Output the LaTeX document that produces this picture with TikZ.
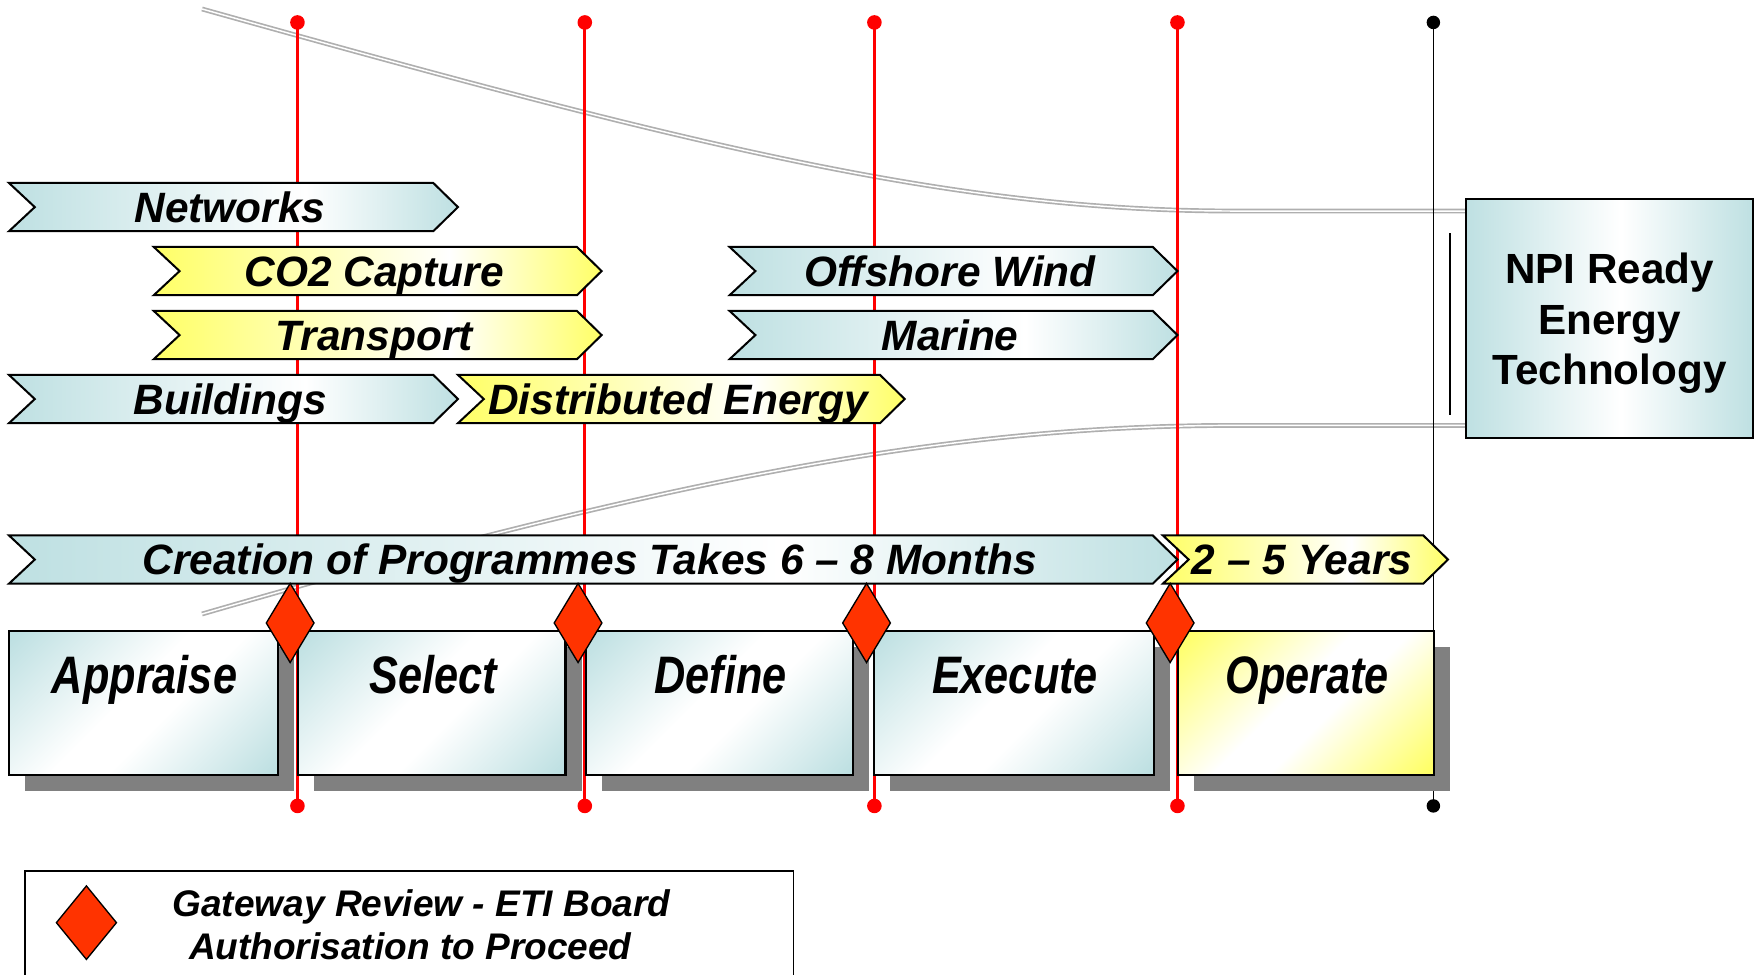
\documentclass[tikz,border=0pt]{standalone}
\usepackage{fontspec}
\setmainfont{Liberation Sans}
\newfontfamily\condfont[FakeStretch=0.82]{Liberation Sans}
\usetikzlibrary{shapes.geometric}
\definecolor{tealc}{RGB}{190,224,226}
\definecolor{yelc}{RGB}{255,255,102}
\definecolor{diam}{RGB}{255,51,0}
\definecolor{shad}{RGB}{128,128,128}
\definecolor{curvegray}{RGB}{175,175,175}
\pgfdeclarehorizontalshading{tealbar}{100bp}{color(0bp)=(tealc); color(25bp)=(tealc); color(58bp)=(white); color(75bp)=(tealc); color(100bp)=(tealc)}
\pgfdeclarehorizontalshading{yelbar}{100bp}{color(0bp)=(yelc); color(25bp)=(yelc); color(58bp)=(white); color(75bp)=(yelc); color(100bp)=(yelc)}
\pgfdeclarehorizontalshading{npishade}{100bp}{color(0bp)=(tealc); color(25bp)=(tealc); color(52bp)=(white); color(75bp)=(tealc); color(100bp)=(tealc)}
\pgfdeclarehorizontalshading{tealbox}{100bp}{color(0bp)=(tealc); color(16bp)=(tealc); color(46bp)=(white); color(56bp)=(white); color(84bp)=(tealc); color(100bp)=(tealc)}
\pgfdeclarehorizontalshading{yelbox}{100bp}{color(0bp)=(yelc); color(16bp)=(yelc); color(46bp)=(white); color(56bp)=(white); color(84bp)=(yelc); color(100bp)=(yelc)}
\tikzset{
  redline/.style={draw=red, line width=3pt},
  blkline/.style={draw=black, line width=1.3pt},
  rdot/.style={circle, fill=red, inner sep=0pt, minimum size=13pt},
  kdot/.style={circle, fill=black, inner sep=0pt, minimum size=12pt},
  funnel/.style={draw=curvegray, line width=1.5pt, double=white, double distance=1.3pt},
  barline/.style={draw=black, line width=1.8pt, line join=miter, shade},
  bartext/.style={font=\fontsize{37.8}{42}\selectfont\bfseries\itshape, inner sep=0pt, anchor=base},
  boxtext/.style={font=\condfont\fontsize{47}{52}\selectfont\bfseries\itshape, inner sep=0pt, anchor=base},
  phase/.style={draw=black, line width=2.2pt, shade, shading angle=-45},
  shadowbox/.style={fill=shad},
  gate/.style={diamond, draw=black, line width=1.2pt, fill=diam, minimum width=43pt, minimum height=71pt, inner sep=0pt},
  npibox/.style={draw=black, line width=2pt, shade, shading=npishade, minimum width=256pt, minimum height=213pt, inner sep=0pt},
  npitext/.style={font=\fontsize{37.6}{45}\selectfont\bfseries, align=center, inner sep=0pt},
  legbox/.style={draw=black, line width=1.6pt},
  legtext/.style={font=\fontsize{33}{38.5}\selectfont\bfseries\itshape, align=center, inner sep=0pt},
}
% #1 name, #2 left x, #3 tip x, #4 top y, #5 shading, #6 text
\newcommand{\chevbar}[6]{%
  \path[barline, shading=#5] (#2,#4) -- (#3-22,#4) -- (#3,#4+21.5) -- (#3-22,#4+43) -- (#2,#4+43) -- (#2+23,#4+21.5) -- cycle;
  \node[bartext] (#1) at ({(#2+#3)/2-3},#4+35) {#6};
}
% #1 name, #2 left x, #3 right x, #4 shading, #5 text
\newcommand{\phasebox}[5]{%
  \fill[shadowbox] (#2+14,576) rectangle (#3+14.5,704.5);
  \path[phase, shading=#4] (#2,562) rectangle (#3,690.5);
  \node[boxtext] (#1) at ({(#2+#3)/2+1},618) {#5};
}
\begin{document}
\begin{tikzpicture}[x=1pt,y=-1pt]
\useasboundingbox (0,0) rectangle (1568,868);
% funnel curves
\coordinate (ft0) at (180,8);
\coordinate (ft1) at (1100,188);
\coordinate (ft2) at (1306,188);
\coordinate (fb0) at (180,547);
\coordinate (fb1) at (1100,379);
\coordinate (fb2) at (1306,379);
\draw[funnel] (ft0) .. controls (615,130) and (850,188) .. (ft1) -- (ft2);
\draw[funnel] (fb0) .. controls (600,425) and (850,379) .. (fb1) -- (fb2);
% gateway lines
\foreach \i/\x in {1/265,2/521,3/779,4/1049}{
  \node[rdot] (t\i) at (\x,20) {};
  \node[rdot] (b\i) at (\x,718) {};
  \draw[redline] (t\i.center) -- (b\i.center);
}
\node[kdot] (t5) at (1277,20) {};
\node[kdot] (b5) at (1277,718) {};
\draw[blkline] (t5.center) -- (b5.center);
% bracket line
\coordinate (br0) at (1292,208);
\coordinate (br1) at (1292,370);
\draw[draw=black, line width=1.8pt] (br0) -- (br1);
% bars
\chevbar{networks}{8}{408}{163}{tealbar}{Networks}
\chevbar{co2}{137}{536}{220}{yelbar}{CO2 Capture}
\chevbar{transport}{137}{536}{277}{yelbar}{Transport}
\chevbar{buildings}{8}{408}{334}{tealbar}{Buildings}
\chevbar{distributed}{408}{806}{334}{yelbar}{Distributed Energy}
\chevbar{offshore}{650}{1049}{220}{tealbar}{Offshore Wind}
\chevbar{marine}{650}{1049}{277}{tealbar}{Marine}
\chevbar{creation}{8}{1049}{477}{tealbar}{Creation of Programmes Takes 6 – 8 Months}
\chevbar{years}{1036}{1290}{477}{yelbar}{2 – 5 Years}
% phase boxes
\phasebox{appraise}{8}{247.5}{tealbox}{Appraise}
\phasebox{select}{265.5}{504}{tealbox}{Select}
\phasebox{define}{522}{760}{tealbox}{Define}
\phasebox{execute}{778.5}{1028}{tealbox}{Execute}
\phasebox{operate}{1049.5}{1277.5}{yelbox}{Operate}
% gateway diamonds
\node[gate] (g1) at (258.5,555) {};
\node[gate] (g2) at (515,555) {};
\node[gate] (g3) at (772,555) {};
\node[gate] (g4) at (1042.5,555) {};
% NPI box
\node[npibox] (npi) at (1434,284) {};
\node[npitext] (npit) at (1434,288) {NPI Ready\\Energy\\Technology};
% legend
\draw[legbox] (22,776) rectangle (707,890);
\node[gate, minimum width=54pt, minimum height=66pt] (lg) at (77,822) {};
\node[legtext] (legt) at (375.5,824) {Gateway Review - ETI Board\\Authorisation to Proceed\hspace*{20pt}};
\end{tikzpicture}
\end{document}
